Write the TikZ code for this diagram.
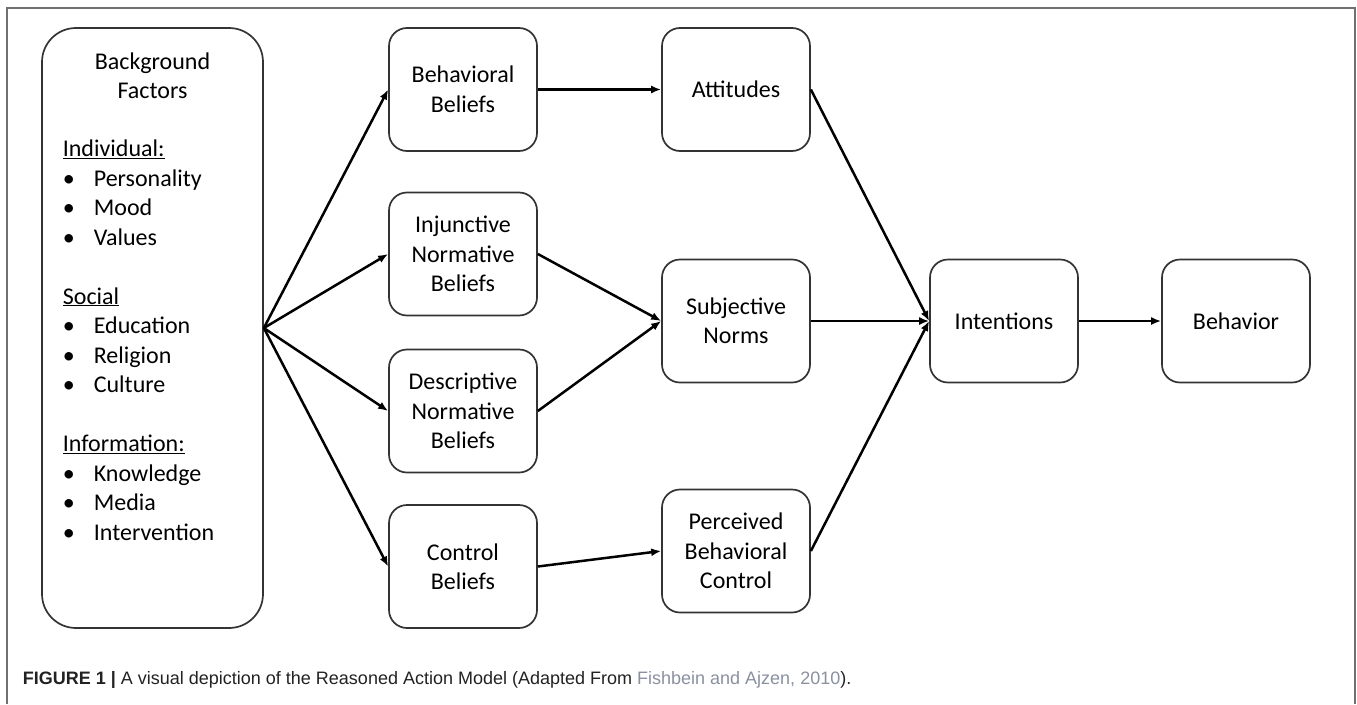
\documentclass[tikz,border=0pt]{standalone}
\usepackage{fontspec}
\setmainfont{Carlito}
\newfontfamily\capfont{Liberation Sans}
\usetikzlibrary{arrows.meta}
\definecolor{boxline}{HTML}{333333}
\definecolor{framegray}{HTML}{707070}
\definecolor{refgray}{HTML}{8A90A0}
\definecolor{captext}{HTML}{222222}

\begin{document}
\begin{tikzpicture}[x=1pt, y=-1pt,
                    line width=1.7pt,
                    font=\fontsize{24}{29.5}\selectfont]
    \tikzstyle{stage}=[draw=boxline, rounded corners=18pt, minimum width=148pt, minimum height=123pt, inner sep=0pt, align=center]
    \tikzstyle{factors}=[stage, rounded corners=34pt, minimum width=221pt, minimum height=600pt]
    \tikzstyle{link}=[-{Latex[length=10pt,width=8pt]}, line width=2.5pt, black]
    \newcommand{\itm}[1]{\makebox[31pt][l]{\textbullet}#1}

    \useasboundingbox (0,0) rectangle (1357,704);
    \draw[framegray, line width=1.5pt] (7,704) -- (7,8) -- (1355,8) -- (1355,704);

    % background factors
    \node[factors] (bg) at (152.5,328) {};
    \node[align=center, inner sep=0pt] (bgtitle) at (152.5,76) {Background\\Factors};
    \node[anchor=north west, align=left, inner sep=0pt] (bglist) at (62,139) {%
        \underline{Individual:}\\
        \itm{Personality}\\
        \itm{Mood}\\
        \itm{Values}\\[29.5pt]
        \underline{Social}\\
        \itm{Education}\\
        \itm{Religion}\\
        \itm{Culture}\\[29.5pt]
        \underline{Information:}\\
        \itm{Knowledge}\\
        \itm{Media}\\
        \itm{Intervention}};

    % beliefs
    \node[stage] (behbel) at (463,89.5) {Behavioral\\Beliefs};
    \node[stage] (injbel) at (463,254) {Injunctive\\Normative\\Beliefs};
    \node[stage] (descbel) at (463,411) {Descriptive\\Normative\\Beliefs};
    \node[stage] (ctrlbel) at (463,566.5) {Control\\Beliefs};

    % determinants
    \node[stage] (att) at (736,89.5) {Attitudes};
    \node[stage] (norms) at (736,321) {Subjective\\Norms};
    \node[stage] (pbc) at (736,551) {Perceived\\Behavioral\\Control};

    \node[stage] (intent) at (1004,321) {Intentions};
    \node[stage] (behav) at (1236,321) {Behavior};

    \draw[link] (bg.east) -- (behbel.west);
    \draw[link] (bg.east) -- (injbel.west);
    \draw[link] (bg.east) -- (descbel.west);
    \draw[link] (bg.east) -- (ctrlbel.west);
    \draw[link] (behbel.east) -- (att.west);
    \draw[link] (injbel.east) -- (norms.west);
    \draw[link] (descbel.east) -- (norms.west);
    \draw[link] (ctrlbel.east) -- (pbc.west);
    \draw[link] (att.east) -- (intent.west);
    \draw[link] (norms.east) -- (intent.west);
    \draw[link] (pbc.east) -- (intent.west);
    \draw[link] (intent.east) -- (behav.west);

    % caption
    \node[anchor=base west, inner sep=0pt, text=captext, font=\capfont\fontsize{18}{21}\selectfont] (caption) at (22,684)
        {\textbf{FIGURE 1 |} A visual depiction of the Reasoned Action Model (Adapted From \textcolor{refgray}{Fishbein and Ajzen, 2010}).};
\end{tikzpicture}
\end{document}
